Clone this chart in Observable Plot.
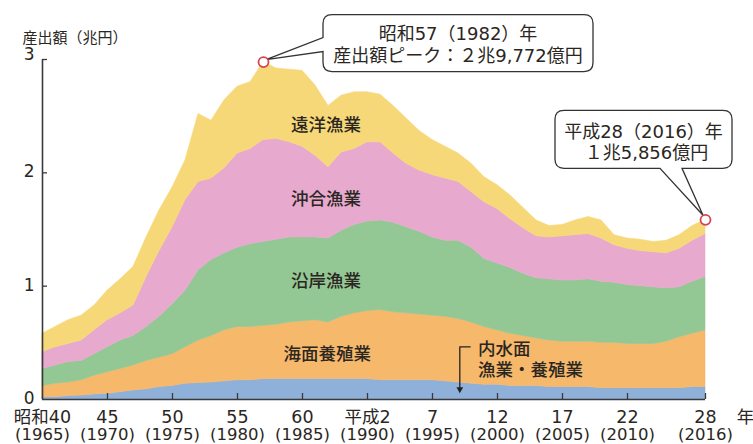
<!DOCTYPE html>
<html><head><meta charset="utf-8">
<script src="https://cdn.jsdelivr.net/npm/d3@7"></script>
<script src="https://cdn.jsdelivr.net/npm/@observablehq/plot@0.6"></script>
<style>
body{margin:0;background:#fff;}
#chart{width:753px;height:444px;}
svg{font-family:"DejaVu Sans","Noto Sans CJK JP",sans-serif;}
</style></head><body><div id="chart"></div>
<script>
const years = [1965,1966,1967,1968,1969,1970,1971,1972,1973,1974,1975,1976,1977,1978,1979,1980,1981,1982,1983,1984,1985,1986,1987,1988,1989,1990,1991,1992,1993,1994,1995,1996,1997,1998,1999,2000,2001,2002,2003,2004,2005,2006,2007,2008,2009,2010,2011,2012,2013,2014,2015,2016];
// 兆円
const inland = [0.02,0.02,0.03,0.035,0.045,0.05,0.065,0.08,0.09,0.11,0.12,0.14,0.145,0.15,0.16,0.17,0.17,0.18,0.18,0.18,0.18,0.18,0.18,0.18,0.18,0.18,0.17,0.17,0.17,0.17,0.17,0.16,0.15,0.14,0.13,0.13,0.12,0.12,0.12,0.11,0.11,0.11,0.11,0.10,0.10,0.10,0.10,0.10,0.10,0.10,0.11,0.11];
const marineAquaculture = [0.10,0.12,0.12,0.135,0.165,0.19,0.205,0.22,0.25,0.26,0.28,0.32,0.375,0.41,0.45,0.47,0.47,0.47,0.48,0.50,0.51,0.52,0.50,0.55,0.58,0.60,0.62,0.60,0.59,0.58,0.57,0.57,0.56,0.54,0.51,0.48,0.46,0.44,0.42,0.41,0.40,0.40,0.40,0.40,0.40,0.39,0.39,0.39,0.41,0.45,0.47,0.50];
const coastal = [0.15,0.16,0.18,0.17,0.19,0.22,0.25,0.26,0.30,0.36,0.44,0.50,0.62,0.67,0.68,0.70,0.73,0.74,0.75,0.75,0.74,0.73,0.74,0.76,0.78,0.79,0.79,0.79,0.76,0.73,0.69,0.67,0.69,0.66,0.60,0.59,0.58,0.55,0.53,0.54,0.54,0.54,0.55,0.54,0.53,0.52,0.51,0.50,0.47,0.44,0.46,0.47];
const offshore = [0.15,0.16,0.16,0.18,0.21,0.24,0.24,0.27,0.44,0.58,0.68,0.80,0.78,0.72,0.75,0.83,0.84,0.90,0.89,0.84,0.80,0.72,0.63,0.69,0.67,0.70,0.69,0.61,0.56,0.54,0.55,0.55,0.52,0.49,0.50,0.48,0.43,0.40,0.37,0.37,0.39,0.40,0.40,0.38,0.33,0.32,0.31,0.31,0.31,0.34,0.36,0.38];
const distantWater = [0.16,0.18,0.21,0.22,0.22,0.26,0.30,0.34,0.35,0.36,0.35,0.35,0.60,0.51,0.60,0.59,0.59,0.687,0.62,0.64,0.67,0.62,0.54,0.50,0.50,0.44,0.42,0.42,0.40,0.35,0.31,0.28,0.25,0.25,0.22,0.21,0.21,0.18,0.14,0.10,0.10,0.13,0.15,0.16,0.09,0.09,0.10,0.09,0.11,0.12,0.13,0.126];

const seriesNames = ["内水面漁業・養殖業","海面養殖業","沿岸漁業","沖合漁業","遠洋漁業"];
const seriesValues = [inland, marineAquaculture, coastal, offshore, distantWater];
const seriesColors = ["#8fb0d9","#f6b86b","#93c793","#e7a9cd","#f6d879"];

const xLabelYears = [1965,1970,1975,1980,1985,1990,1995,2000,2005,2010,2016];
const xLabelEra = ["昭和40","45","50","55","60","平成2","7","12","17","22","28"];
const xLabelAD = ["(1965)","(1970)","(1975)","(1980)","(1985)","(1990)","(1995)","(2000)","(2005)","(2010)","(2016)"];
const xTickYears = [1970,1975,1980,1985,1990,1995,2000,2005,2010,2016];
const yTicks = [0,1,2,3];
const yTitle = "産出額（兆円）";

const peak = {year:1982, value:2.9772, lines:["昭和57（1982）年","産出額ピーク：２兆9,772億円"]};
const latest = {year:2016, value:1.5856, lines:["平成28（2016）年","１兆5,856億円"]};

const areaLabels = [
  {year:1986.8, value:2.42, text:"遠洋漁業"},
  {year:1986.8, value:1.765, text:"沖合漁業"},
  {year:1986.8, value:1.04, text:"沿岸漁業"},
  {year:1986.9, value:0.40, text:"海面養殖業"}
];
const inlandLabel = {year:1998.5, lines:["内水面","漁業・養殖業"], value1:0.445, value2:0.255};

const table = [];
seriesNames.forEach((s, k) => years.forEach((yr, i) => table.push({year: yr, value: seriesValues[k][i], series: s})));

const FONT = '"DejaVu Sans","Noto Sans CJK JP",sans-serif';
const W = 753, H = 444, mL = 42, mR = 48, mT = 59, mB = 45;
const plotW = W - mL - mR, plotH = H - mT - mB;
const ink = "#2a2622";

const plot = Plot.plot({
  width: W, height: H,
  marginLeft: mL, marginRight: mR, marginTop: mT, marginBottom: mB,
  x: {domain: [1965, 2016], axis: null},
  y: {domain: [0, 3], axis: null},
  color: {domain: seriesNames, range: seriesColors},
  style: {fontFamily: FONT, background: "white", overflow: "visible"},
  marks: [
    Plot.areaY(table, Plot.stackY({x: "year", y: "value", fill: "series", stroke: "series", strokeWidth: 0.6, order: seriesNames})),
    Plot.ruleX([1965], {stroke: "#3a3a3a", strokeWidth: 1.6}),
    Plot.ruleY([0], {stroke: "#3a3a3a", strokeWidth: 1.6}),
    Plot.ruleX(xTickYears, {x: d => d, stroke: "#3a3a3a", strokeWidth: 1.3, insetTop: plotH - 6}),
    Plot.ruleY([1,2,3], {y: d => d, stroke: "#3a3a3a", strokeWidth: 1.3, insetRight: plotW - 5}),
    Plot.text(xLabelYears, {x: d => d, text: (d, i) => xLabelEra[i], frameAnchor: "bottom", lineAnchor: "top", dy: 11.3, fontSize: 17.5, fill: ink}),
    Plot.text(xLabelYears, {x: d => d, text: (d, i) => xLabelAD[i], frameAnchor: "bottom", lineAnchor: "top", dy: 28.8, fontSize: 16.5, fill: ink}),
    Plot.text(["年"], {x: () => 2016, frameAnchor: "bottom", lineAnchor: "top", dx: 40, dy: 11.3, fontSize: 17.5, fill: ink}),
    Plot.text([0,1,2], {y: d => d, text: d => String(d), frameAnchor: "left", textAnchor: "end", dx: -8, dy: -1, fontSize: 17, fill: ink}),
    Plot.text([3], {y: d => d, text: d => String(d), frameAnchor: "left", textAnchor: "end", dx: -8, dy: -5, fontSize: 17, fill: ink}),
    Plot.text([yTitle], {frameAnchor: "top-left", textAnchor: "start", lineAnchor: "middle", dx: -20, dy: -21, fontSize: 15, fill: ink}),
    Plot.text(areaLabels, {x: "year", y: "value", text: "text", fontSize: 17.5, fontWeight: 500, fill: ink}),
    Plot.text([inlandLabel], {x: "year", y: "value1", text: d => d.lines[0], textAnchor: "start", fontSize: 17.5, fontWeight: 500, fill: ink}),
    Plot.text([inlandLabel], {x: "year", y: "value2", text: d => d.lines[1], textAnchor: "start", fontSize: 17.5, fontWeight: 500, fill: ink}),
    Plot.line([{x: 1997.9, y: 0.465}, {x: 1997.1, y: 0.465}, {x: 1997.1, y: 0.10}], {x: "x", y: "y", stroke: "#222", strokeWidth: 1.3}),
    Plot.dot([{x: 1997.1, y: 0.09}], {x: "x", y: "y", symbol: "triangle2", r: 3.2, rotate: 180, fill: "#222"}),
    Plot.dot([peak, latest], {x: "year", y: "value", r: 5, fill: "white", stroke: "#d5454e", strokeWidth: 1.8})
  ]
});
document.getElementById("chart").appendChild(plot);

// callout boxes
const svg = d3.select(plot);
const sx = plot.scale("x"), sy = plot.scale("y");
const r = 9;
function roundedBox(L, R, T, B, gap) {
  let d = `M${gap.tipX},${gap.tipY}`;
  if (gap.side === "left") {
    d += `L${L},${gap.b}L${L},${B - r}Q${L},${B} ${L + r},${B}L${R - r},${B}Q${R},${B} ${R},${B - r}L${R},${T + r}Q${R},${T} ${R - r},${T}L${L + r},${T}Q${L},${T} ${L},${T + r}L${L},${gap.a}Z`;
  } else {
    d += `L${gap.b},${B}L${R - r},${B}Q${R},${B} ${R},${B - r}L${R},${T + r}Q${R},${T} ${R - r},${T}L${L + r},${T}Q${L},${T} ${L},${T + r}L${L},${B - r}Q${L},${B} ${L + r},${B}L${gap.a},${B}Z`;
  }
  return d;
}
const g = svg.append("g").attr("font-family", FONT).attr("fill", ink);
{
  const px = sx.apply(peak.year), py = sy.apply(peak.value);
  const L = px + 60, R = px + 330, T = py - 47, B = py + 10;
  g.append("path").attr("d", roundedBox(L, R, T, B, {side: "left", a: py - 24, b: py - 10, tipX: px + 3, tipY: py - 2}))
    .attr("fill", "white").attr("stroke", "#333").attr("stroke-width", 1.3);
  const cx = (L + R) / 2;
  g.append("text").attr("x", cx).attr("y", py - 28.5).attr("dy", "0.36em").attr("text-anchor", "middle").attr("font-size", 18).text(peak.lines[0]);
  g.append("text").attr("x", cx).attr("y", py - 6.5).attr("dy", "0.36em").attr("text-anchor", "middle").attr("font-size", 18).text(peak.lines[1]);
}
{
  const px = sx.apply(latest.year), py = sy.apply(latest.value);
  const L = px - 150, R = px + 27, T = py - 109, B = py - 51;
  g.append("path").attr("d", roundedBox(L, R, T, B, {side: "bottom", a: px - 45, b: px - 23, tipX: px - 2, tipY: py - 4}))
    .attr("fill", "white").attr("stroke", "#333").attr("stroke-width", 1.3);
  const cx = (L + R) / 2;
  g.append("text").attr("x", cx).attr("y", py - 88).attr("dy", "0.36em").attr("text-anchor", "middle").attr("font-size", 18).text(latest.lines[0]);
  g.append("text").attr("x", cx + 3).attr("y", py - 67).attr("dy", "0.36em").attr("text-anchor", "middle").attr("font-size", 18).text(latest.lines[1]);
}
svg.selectAll('g[aria-label="dot"]').filter((d, i, n) => i === n.length - 1).raise();
</script></body></html>
